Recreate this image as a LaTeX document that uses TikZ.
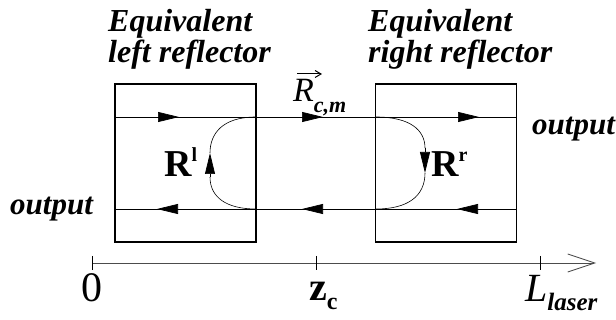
\documentclass[tikz,border=0pt]{standalone}
\usepackage{fontspec}
\setmainfont{Liberation Serif}
\usetikzlibrary{arrows.meta}
\begin{document}
\begin{tikzpicture}[x=1pt,y=-1pt,
  box/.style={draw,line width=1.3pt,minimum width=141pt,minimum height=158pt,inner sep=0pt},
  beam/.style={line width=0.7pt},
  tri/.style={line width=0.7pt,-{Triangle[length=21pt,width=10pt]}},
  curv/.style={line width=0.6pt},
  lbl/.style={font=\fontsize{32}{32}\selectfont\bfseries\itshape,inner sep=0pt,anchor=base west},
  outlbl/.style={font=\fontsize{31}{31}\selectfont\bfseries\itshape,inner sep=0pt,anchor=base west},
  tick/.style={line width=0.7pt},
  axl/.style={inner sep=0pt,anchor=base},
]
\useasboundingbox (0,0) rectangle (616,320);
% boxes
\node[box] (lbox) at (185.5,163) {};
\node[box] (rbox) at (446,163) {};
% header labels
\node[lbl] (l1) at (108,32) {Equivalent};
\node[lbl] (l2) at (108,63) {left reflector};
\node[lbl] (r1) at (368,32) {Equivalent};
\node[lbl] (r2) at (368,63) {right reflector};
\node[outlbl] (outl) at (10,215) {output};
\node[outlbl] (outr) at (532,135) {output};
% beams
\coordinate (tl) at (115,117); \coordinate (tr) at (516,117);
\coordinate (bl) at (115,209); \coordinate (br) at (516,209);
\draw[beam] (tl) -- (tr);
\draw[beam] (br) -- (bl);
\coordinate (a1s) at (156,117); \coordinate (a1e) at (179,117);
\coordinate (a2s) at (300,117); \coordinate (a2e) at (323,117);
\coordinate (a3s) at (456,117); \coordinate (a3e) at (479,117);
\coordinate (b1s) at (180,209); \coordinate (b1e) at (157,209);
\coordinate (b2s) at (325,209); \coordinate (b2e) at (302,209);
\coordinate (b3s) at (480,209); \coordinate (b3e) at (457,209);
\draw[tri] (a1s) -- (a1e);
\draw[tri] (a2s) -- (a2e);
\draw[tri] (a3s) -- (a3e);
\draw[tri] (b1s) -- (b1e);
\draw[tri] (b2s) -- (b2e);
\draw[tri] (b3s) -- (b3e);
% reflection curves
\coordinate (lc1) at (256,117); \coordinate (lc2) at (256,209);
\coordinate (lu1) at (210,177); \coordinate (lu2) at (210,153);
\draw[curv] (lc1) .. controls (222,117) and (210,134) .. (lu2);
\draw[curv] (lu1) .. controls (210,197) and (226,209) .. (lc2);
\draw[tri] (lu1) -- (lu2);
\coordinate (rc1) at (376,117); \coordinate (rc2) at (376,209);
\coordinate (rd1) at (425,148); \coordinate (rd2) at (425,173);
\draw[curv] (rc1) .. controls (410,117) and (425,130) .. (rd1);
\draw[curv] (rd2) .. controls (425,196) and (408,209) .. (rc2);
\draw[tri] (rd1) -- (rd2);
% R labels
\node[inner sep=0pt,anchor=base west] (Rl) at (164,177) {\fontsize{38}{38}\selectfont\bfseries R\raisebox{0.4em}{\fontsize{20}{20}\selectfont l}};
\node[inner sep=0pt,anchor=base west] (Rr) at (431,177) {\fontsize{38}{38}\selectfont\bfseries R\raisebox{0.4em}{\fontsize{20}{20}\selectfont r}};
\node[inner sep=0pt,anchor=base west] (Rc) at (293,102) {\fontsize{34}{34}\selectfont\itshape R\raisebox{-0.3em}{\fontsize{22}{22}\selectfont\bfseries c,m}};
\coordinate (va) at (297,74); \coordinate (vb) at (322,74);
\draw[line width=1pt,-{Straight Barb[length=6pt,width=7pt]}] (va) -- (vb);
% axis
\coordinate (ax0) at (92,263); \coordinate (axe) at (596,263);
\draw[line width=0.8pt,black!70,-{Straight Barb[length=27pt,width=18pt,line width=0.8pt]}] (ax0) -- (axe);
\coordinate (t0a) at (92,256); \coordinate (t0b) at (92,270);
\coordinate (t1a) at (316,256); \coordinate (t1b) at (316,270);
\coordinate (t2a) at (540,256); \coordinate (t2b) at (540,270);
\draw[tick] (t0a) -- (t0b);
\draw[tick] (t1a) -- (t1b);
\draw[tick] (t2a) -- (t2b);
\node[axl] (n0) at (92,302) {\fontsize{42}{42}\selectfont 0};
\node[inner sep=0pt,anchor=base west] (nz) at (309,301) {\fontsize{40}{40}\selectfont\bfseries z\raisebox{-0.22em}{\fontsize{24}{24}\selectfont c}};
\node[inner sep=0pt,anchor=base west] (nl) at (525,302) {\fontsize{40}{40}\selectfont\itshape L\raisebox{-0.22em}{\fontsize{25}{25}\selectfont\bfseries laser}};
\end{tikzpicture}
\end{document}
